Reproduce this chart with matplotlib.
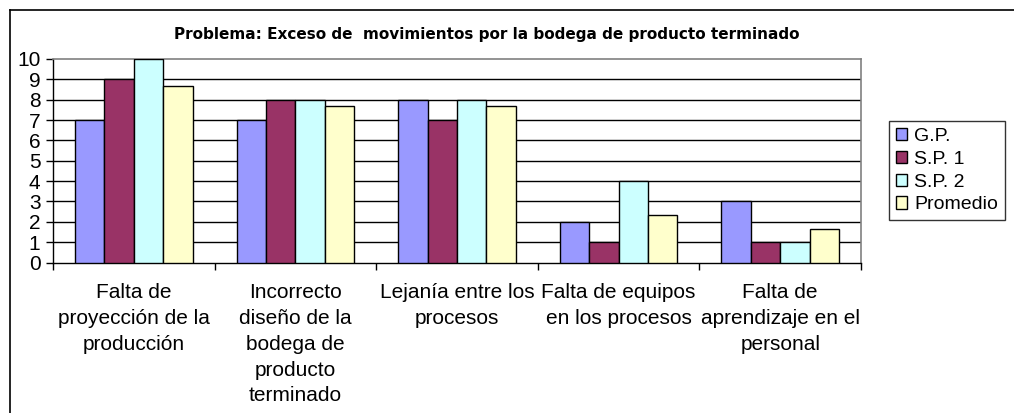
import numpy as np
import matplotlib
matplotlib.use('Agg')
import matplotlib.pyplot as plt
from matplotlib.lines import Line2D

plt.rcParams['font.family'] = ['Liberation Sans', 'DejaVu Sans']

# datos
categorias = ['Falta de\nproyección de la\nproducción',
              'Incorrecto\ndiseño de la\nbodega de\nproducto\nterminado',
              'Lejanía entre los\nprocesos',
              'Falta de equipos\nen los procesos',
              'Falta de\naprendizaje en el\npersonal']
series = ['G.P.', 'S.P. 1', 'S.P. 2', 'Promedio']
gp = [7, 7, 8, 2, 3]
sp1 = [9, 8, 7, 1, 1]
sp2 = [10, 8, 8, 4, 1]
promedio = [8.67, 7.67, 7.67, 2.33, 1.67]
colores = ['#9999FF', '#993366', '#CCFFFF', '#FFFFCC']

W, H = 1014, 413
fig = plt.figure(figsize=(W / 100, H / 100), dpi=100)
ax = fig.add_axes([53 / W, (H - 262.5) / H, 808 / W, (262.5 - 59) / H])

x = np.arange(len(categorias))
ancho = 1 / 5.5
for i, (nombre, vals, c) in enumerate(zip(series, [gp, sp1, sp2, promedio], colores)):
    ax.bar(x + (i - 1.5) * ancho, vals, ancho, color=c, edgecolor='black',
           linewidth=1, label=nombre, zorder=3)

ax.set_xlim(-0.5, len(categorias) - 0.5)
ax.set_ylim(0, 10)
ax.set_yticks(range(0, 11))
for v in range(1, 10):
    ax.axhline(v, color='black', linewidth=1, zorder=1)

ax.set_xticks(x)
ax.set_xticklabels(categorias, fontsize=15, linespacing=1.45)
ax.set_xticks(np.arange(len(categorias) + 1) - 0.5, minor=True)
ax.tick_params(axis='x', which='major', length=0, pad=15)
ax.tick_params(axis='x', which='minor', length=5, width=1, direction='out')
ax.tick_params(axis='y', length=5, width=1, direction='out', labelsize=15, pad=4)

for s in ['top', 'right']:
    ax.spines[s].set_color('#808080')
    ax.spines[s].set_linewidth(1.2)
for s in ['left', 'bottom']:
    ax.spines[s].set_color('black')
    ax.spines[s].set_linewidth(1)

fig.text(487 / W, 1 - 35 / H,
         'Problema: Exceso de  movimientos por la bodega de producto terminado',
         ha='center', va='center', fontsize=11, fontweight='bold',
         family='DejaVu Sans')

leg = fig.legend(loc='upper left', bbox_to_anchor=(889 / W, 1 - 121 / H),
                 fontsize=14, frameon=True, fancybox=False, borderpad=0.35,
                 handlelength=0.6, handleheight=0.6, handletextpad=0.35,
                 labelspacing=0.3, borderaxespad=0)
leg.get_frame().set_edgecolor('black')
leg.get_frame().set_linewidth(1)

# marco exterior del grafico
fig.add_artist(Line2D([9.5 / W, 9.5 / W], [0, 1 - 10 / H], transform=fig.transFigure,
                      color='black', linewidth=1.2))
fig.add_artist(Line2D([9.5 / W, 1], [1 - 10 / H, 1 - 10 / H], transform=fig.transFigure,
                      color='black', linewidth=1.2))

fig.savefig('out.png', dpi=100)
